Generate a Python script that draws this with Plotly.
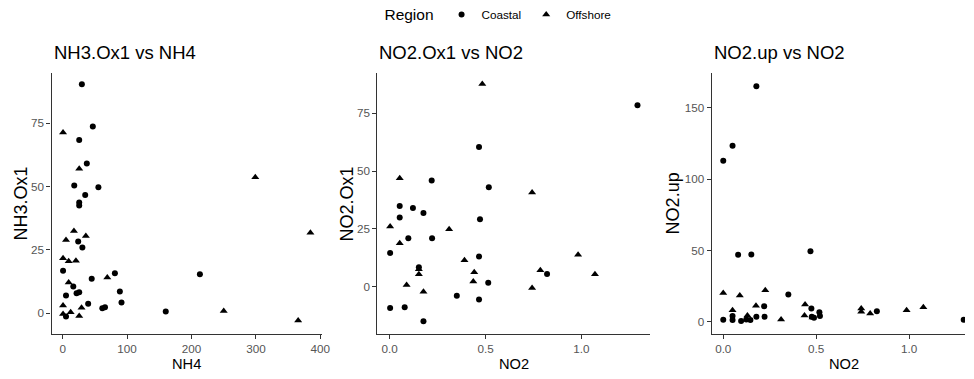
import plotly.graph_objects as go

# ---- Data ----
# Panel 1: NH3.Ox1 vs NH4
nh4_coastal = [29.7, 46.7, 25.6, 37.4, 17.9, 55.4, 34.9, 25.6, 25.6, 24.0, 30.5, 0.5, 81, 213, 45,
               16.4, 5.1, 21.5, 25.6, 88.7, 91.3, 39.5, 61.5, 65.6, 160, 5.1]
nh3ox1_coastal = [90.4, 73.7, 68.4, 59.1, 50.4, 49.7, 46.7, 43.7, 42.5, 28.3, 25.9, 16.8, 15.8, 15.4, 13.6,
                  10.5, 7.0, 7.9, 8.3, 8.6, 4.2, 3.7, 2.0, 2.4, 0.7, -1.3]
nh4_offshore = [0.5, 25.6, 299, 384.6, 17.4, 35.9, 5.1, 0.5, 9.2, 20.5, 69.2, 9.2, 0.5, 29.2, 250,
                0.5, 12.3, 25.6, 365.6]
nh3ox1_offshore = [71.3, 57.0, 53.7, 31.8, 32.5, 30.5, 28.9, 21.7, 20.5, 20.7, 14.1, 12.1, 3.0, 2.2, 0.9,
                   -0.3, 0.4, -1.1, -2.9]

# Panel 2: NO2.Ox1 vs NO2
no2_coastal_p2 = [1.293, 0.466, 0.219, 0.517, 0.052, 0.121, 0.052, 0.176, 0.471, 0.097, 0.221, 0.002,
                  0.466, 0.152, 0.821, 0.514, 0.350, 0.466, 0.002, 0.078, 0.176]
no2ox1_coastal = [78.5, 60.4, 45.9, 43.0, 34.9, 34.0, 29.9, 31.9, 29.1, 20.9, 20.9, 14.6,
                  13.0, 8.4, 5.5, 1.7, -4.0, -5.6, -9.2, -8.9, -15.0]
no2_offshore_p2 = [0.483, 0.052, 0.743, 0.002, 0.310, 0.052, 0.983, 0.390, 0.152, 0.786, 0.441, 1.071,
                   0.152, 0.436, 0.088, 0.743, 0.176]
no2ox1_offshore = [87.7, 46.9, 40.7, 26.0, 24.8, 18.8, 13.8, 11.4, 7.5, 7.1, 6.2, 5.3,
                   5.3, 2.2, 0.7, -0.6, -2.2]

# Panel 3: NO2.up vs NO2
no2_coastal_p3 = [0.178, 0.050, 0.000, 0.080, 0.151, 0.469, 0.350, 0.220, 0.000, 0.050, 0.050, 0.096,
                  0.124, 0.146, 0.178, 0.222, 0.474, 0.476, 0.488, 0.517, 0.520, 0.826, 1.293]
no2up_coastal = [165.3, 123.5, 113.0, 47.0, 47.2, 49.5, 19.1, 10.9, 1.4, 4.0, 1.2, 0.5,
                 1.6, 1.2, 3.5, 3.5, 9.3, 3.5, 2.8, 6.7, 4.0, 7.4, 1.4]
no2_offshore_p3 = [0.000, 0.089, 0.226, 0.176, 0.050, 0.130, 0.311, 0.440, 0.437, 0.480, 0.742, 0.742,
                   0.790, 0.986, 1.076]
no2up_offshore = [20.2, 18.4, 22.1, 11.2, 8.1, 4.4, 1.6, 12.1, 4.4, 3.0, 9.3, 7.0,
                  5.8, 8.1, 10.2]

region_names = ["Coastal", "Offshore"]
panel_titles = ["NH3.Ox1 vs NH4", "NO2.Ox1 vs NO2", "NO2.up vs NO2"]
x_titles = ["NH4", "NO2", "NO2"]
y_titles = ["NH3.Ox1", "NO2.Ox1", "NO2.up"]

# ---- Layout geometry ----
W, H = 974, 379
FONT = "Liberation Sans, Arial, Helvetica, sans-serif"
TICK_COLOR = "#555555"
LINE_COLOR = "#333333"

x_dom_px = [(52, 325), (381, 656), (718.3, 974)]
y_dom_px = (73.3, 334)
x_ranges = [(-17.4, 402.6), (-0.064, 1.358), (-0.0623, 1.30)]
y_ranges = [(-8.2, 94.7), (-20.5, 92.3), (-8.6, 174.3)]
x_ticks = [[0, 100, 200, 300, 400], [0.0, 0.5, 1.0], [0.0, 0.5, 1.0]]
x_ticktext = [["0", "100", "200", "300", "400"], ["0.0", "0.5", "1.0"], ["0.0", "0.5", "1.0"]]
y_ticks = [[0, 25, 50, 75], [0, 25, 50, 75], [0, 50, 100, 150]]
y_title_x_px = [21, 350, 679]
x_title_x_px = [188.5, 518.5, 851.5]
x_title_y_px = 364

panels = [
    (nh4_coastal, nh3ox1_coastal, nh4_offshore, nh3ox1_offshore),
    (no2_coastal_p2, no2ox1_coastal, no2_offshore_p2, no2ox1_offshore),
    (no2_coastal_p3, no2up_coastal, no2_offshore_p3, no2up_offshore),
]

fig = go.Figure()
for i, (xc, yc, xo, yo) in enumerate(panels):
    ax = "" if i == 0 else str(i + 1)
    fig.add_trace(go.Scatter(
        x=xc, y=yc, mode="markers", name=region_names[0], legendgroup="c",
        showlegend=(i == 0), xaxis="x" + ax, yaxis="y" + ax,
        marker=dict(symbol="circle", size=6, color="black", line=dict(width=0)),
    ))
    fig.add_trace(go.Scatter(
        x=xo, y=yo, mode="markers", name=region_names[1], legendgroup="o",
        showlegend=(i == 0), xaxis="x" + ax, yaxis="y" + ax,
        marker=dict(symbol="triangle-up", size=7, color="black", line=dict(width=0)),
    ))

layout = dict(
    width=W, height=H,
    margin=dict(l=0, r=0, t=0, b=0),
    paper_bgcolor="white", plot_bgcolor="white",
    font=dict(family=FONT, color="black"),
    showlegend=True,
    legend=dict(
        orientation="h", x=386 / W, xanchor="left", y=1.0, yanchor="top",
        title=dict(text="Region", font=dict(size=15.5, color="black")),
        font=dict(size=11.7, color="black"),
        itemwidth=30, tracegroupgap=0,
    ),
)

annotations = []
for i in range(3):
    ax = "" if i == 0 else str(i + 1)
    xd = [x_dom_px[i][0] / W, min(1.0, x_dom_px[i][1] / W)]
    yd = [1 - y_dom_px[1] / H, 1 - y_dom_px[0] / H]
    layout["xaxis" + ax] = dict(
        domain=xd, range=list(x_ranges[i]), anchor="y" + ax,
        showgrid=False, zeroline=False, showline=True, linecolor=LINE_COLOR, linewidth=1.1,
        ticks="outside", ticklen=4, tickwidth=1.1, tickcolor=LINE_COLOR,
        tickvals=x_ticks[i], ticktext=x_ticktext[i],
        tickfont=dict(size=11.7, color=TICK_COLOR, family=FONT),
    )
    layout["yaxis" + ax] = dict(
        domain=yd, range=list(y_ranges[i]), anchor="x" + ax,
        showgrid=False, zeroline=False, showline=True, linecolor=LINE_COLOR, linewidth=1.1,
        ticks="outside", ticklen=4, tickwidth=1.1, tickcolor=LINE_COLOR,
        tickvals=y_ticks[i],
        tickfont=dict(size=11.7, color=TICK_COLOR, family=FONT),
    )
    annotations.append(dict(
        text=panel_titles[i], xref="paper", yref="paper",
        x=x_dom_px[i][0] / W, y=1 - 53 / H, xanchor="left", yanchor="middle",
        showarrow=False, font=dict(size=18.5, color="black", family=FONT),
    ))
    annotations.append(dict(
        text=x_titles[i], xref="paper", yref="paper",
        x=x_title_x_px[i] / W, y=1 - x_title_y_px / H, xanchor="center", yanchor="middle",
        showarrow=False, font=dict(size=14.67, color="black", family=FONT),
    ))
    annotations.append(dict(
        text=y_titles[i], xref="paper", yref="paper", textangle=-90,
        x=y_title_x_px[i] / W, y=1 - (y_dom_px[0] + y_dom_px[1]) / 2 / H,
        xanchor="center", yanchor="middle",
        showarrow=False, font=dict(size=18, color="black", family=FONT),
    ))
layout["annotations"] = annotations

fig.update_layout(**layout)
fig.write_html("out.html", post_script="document.body.style.margin='0';",
               config={"displayModeBar": False})
